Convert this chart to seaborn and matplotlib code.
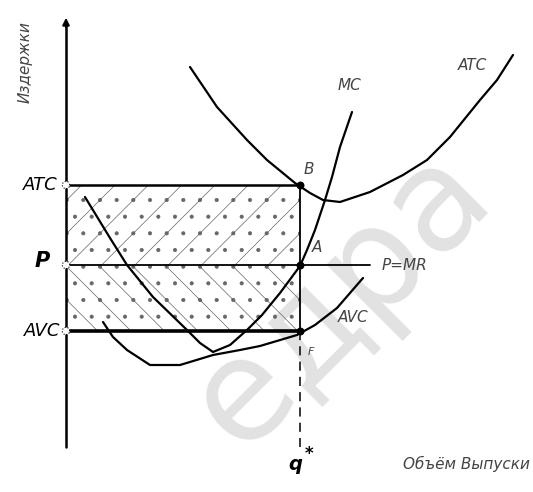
import numpy as np
import pandas as pd
import matplotlib
matplotlib.use('Agg')
import matplotlib.pyplot as plt
import seaborn as sns
from matplotlib.patches import Rectangle

# curve points (pixel-like units, y grows downward)
atc_x = [190, 217, 247, 267, 295, 310, 323, 340, 370, 403, 427, 450, 480, 497, 513]
atc_y = [67, 107, 140, 160, 183, 193, 200, 202, 192, 175, 160, 137, 100, 80, 55]

mc_x = [85, 110, 127, 153, 187, 200, 213, 230, 247, 262, 280, 300, 307, 315, 325, 332, 340, 352]
mc_y = [197, 238, 265, 297, 330, 343, 352, 345, 330, 315, 293, 266, 250, 230, 200, 177, 147, 112]

avc_x = [103, 113, 127, 150, 180, 213, 240, 260, 297, 315, 337, 363]
avc_y = [322, 337, 350, 365, 365, 355, 350, 346, 335, 325, 308, 278]

# levels
y_atc = 185
y_p = 265
y_avc = 331
q_star = 300
x_axis = 66
p_end = 370

sns.set_theme(style='white')
plt.rcParams['font.family'] = ['DejaVu Sans']
plt.rcParams['hatch.linewidth'] = 0.5

fig = plt.figure(figsize=(5.33, 4.92), dpi=100)
ax = fig.add_axes([0, 0, 1, 1])
ax.set_xlim(0, 533)
ax.set_ylim(492, 0)
ax.axis('off')

# watermark
ax.text(340, 298, 'едра', fontsize=102, color='#e2e2e2', rotation=45,
        ha='center', va='center', zorder=0)

# hatched areas
ax.add_patch(Rectangle((x_axis, y_atc), q_star - x_axis, y_p - y_atc, facecolor='none',
                       edgecolor='#666666', hatch='/.', linewidth=0, zorder=1))
ax.add_patch(Rectangle((x_axis, y_p), q_star - x_axis, y_avc - y_p, facecolor='none',
                       edgecolor='#666666', hatch='\\.', linewidth=0, zorder=1))

curves = pd.concat([
    pd.DataFrame({'x': atc_x, 'y': atc_y, 'c': 'ATC'}),
    pd.DataFrame({'x': mc_x, 'y': mc_y, 'c': 'MC'}),
    pd.DataFrame({'x': avc_x, 'y': avc_y, 'c': 'AVC'}),
])
sns.lineplot(data=curves, x='x', y='y', units='c', estimator=None, sort=False,
             color='black', linewidth=1.6, ax=ax, zorder=3)

# axis
ax.plot([x_axis, x_axis], [447, 22], color='black', lw=1.8, zorder=3)
ax.annotate('', xy=(x_axis, 15), xytext=(x_axis, 30),
            arrowprops=dict(arrowstyle='-|>', color='black', lw=1.5, mutation_scale=10))

# level lines
ax.plot([x_axis, q_star], [y_atc, y_atc], color='black', lw=1.8, zorder=3)
ax.plot([x_axis, p_end], [y_p, y_p], color='black', lw=1.3, zorder=3)
ax.plot([x_axis, q_star], [y_avc, y_avc], color='black', lw=2.6, zorder=3)
ax.plot([q_star, q_star], [y_atc, y_avc], color='black', lw=1.3, zorder=3)
ax.plot([q_star, q_star], [y_avc, 447], color='black', lw=1.1, ls=(0, (6, 4)), zorder=3)

# points
ax.scatter([x_axis] * 3, [y_atc, y_p, y_avc], s=28, facecolor='white',
           edgecolor='black', linewidth=0.8, linestyle=':', zorder=4)
ax.scatter([q_star] * 3, [y_atc, y_p, y_avc], s=22, color='black', zorder=4)

# labels
lab = dict(fontstyle='italic', color='black', fontsize=13, ha='right', va='center')
ax.text(58, y_atc, 'ATC', **lab)
ax.text(50, y_p - 4, 'P', fontsize=15, fontweight='bold', fontstyle='italic',
        ha='right', va='center', color='black')
ax.text(60, y_avc, 'AVC', **lab)

gray = dict(fontstyle='italic', color='#444444', fontsize=11, va='center')
ax.text(25, 62, 'Издержки', rotation=90, ha='center', **gray)
ax.text(304, 170, 'B', ha='left', **gray)
ax.text(312, 247, 'A', ha='left', **gray)
ax.text(338, 85, 'MC', ha='left', **gray)
ax.text(458, 65, 'ATC', ha='left', **gray)
ax.text(382, 266, 'P=MR', ha='left', **gray)
ax.text(338, 318, 'AVC', ha='left', **gray)
ax.text(308, 352, 'F', ha='left', color='#444444', fontsize=8, fontstyle='italic', va='center')
ax.text(295, 465, 'q', ha='center', va='center', fontsize=14, fontweight='bold',
        fontstyle='italic', color='black')
ax.text(309, 454, '*', ha='center', va='center', fontsize=12, fontweight='bold', color='black')
ax.text(530, 464, 'Объём Выпуски', ha='right', **gray)

fig.savefig('out.png', dpi=100)
